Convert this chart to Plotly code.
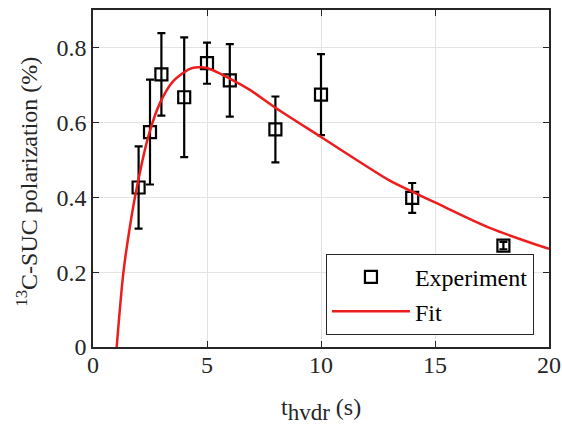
import plotly.graph_objects as go

# Experimental data
exp_t = [2, 2.5, 3, 4, 5, 6, 8, 10, 14, 18]
exp_pol = [0.426, 0.574, 0.728, 0.667, 0.758, 0.712, 0.581, 0.674, 0.398, 0.271]
exp_err = [0.11, 0.14, 0.11, 0.16, 0.055, 0.097, 0.088, 0.108, 0.04, 0.01]

# Fit curve
fit_t = [1.04, 1.33, 1.62, 1.92, 2.43, 2.94, 3.52, 4.25, 4.6, 5.0, 6.0, 6.9, 7.9,
         10.0, 13.0, 14.0, 15.0, 17.4, 20.0]
fit_pol = [0.0, 0.197, 0.322, 0.425, 0.563, 0.652, 0.710, 0.743, 0.747, 0.745, 0.717,
           0.686, 0.643, 0.561, 0.445, 0.415, 0.386, 0.318, 0.262]

x_ticks = [0, 5, 10, 15, 20]
y_ticks = [0, 0.2, 0.4, 0.6, 0.8]
y_tick_labels = ["0", "0.2", "0.4", "0.6", "0.8"]

FONT = "Liberation Serif"
AX = "#262626"
FS = 24

fig = go.Figure()
fig.add_trace(go.Scatter(
    x=exp_t, y=exp_pol, mode="markers", name="Experiment",
    marker=dict(symbol="square-open", size=12, color="black", line=dict(width=2.2)),
    error_y=dict(type="data", array=exp_err, visible=True, color="black",
                 thickness=2.2, width=4),
))
fig.add_trace(go.Scatter(
    x=fit_t, y=fit_pol, mode="lines", name="Fit",
    line=dict(color="#ee1d1d", width=2.5, shape="spline", smoothing=0.8),
))

axis_common = dict(
    showline=True, linecolor=AX, linewidth=1.5, mirror="ticks",
    ticks="inside", ticklen=6, tickwidth=1.2, tickcolor=AX,
    showgrid=True, gridcolor="#e3e3e3", gridwidth=1, zeroline=False,
    tickfont=dict(family=FONT, size=FS, color=AX), automargin=False,
)

fig.update_xaxes(range=[0, 20], tickvals=x_ticks, ticktext=[str(v) for v in x_ticks],
                 ticklabelstandoff=-5, **axis_common)
fig.update_yaxes(range=[0, 0.9], tickvals=y_ticks, ticktext=y_tick_labels,
                 **axis_common)

fig.add_annotation(text="t<sub><span style='font-size:23px'>hvdr</span></sub> (s)",
                   xref="paper", yref="paper",
                   x=0.5, y=-0.135, xanchor="center", yanchor="top", showarrow=False,
                   font=dict(family=FONT, size=FS, color=AX))
fig.add_annotation(text="<sup>13</sup>C-SUC polarization (%)", xref="paper", yref="paper",
                   x=-0.145, y=0.49, xanchor="center", yanchor="middle", showarrow=False,
                   textangle=-90, font=dict(family=FONT, size=FS, color=AX))

fig.update_layout(
    width=562, height=429,
    margin=dict(l=93, r=13, t=10, b=82),
    paper_bgcolor="white", plot_bgcolor="white",
    font=dict(family=FONT, size=FS, color="black"),
    legend=dict(x=0.967, y=0.036, xanchor="right", yanchor="bottom",
                bgcolor="white", bordercolor=AX, borderwidth=1,
                font=dict(family=FONT, size=FS, color="black"),
                itemwidth=78, tracegroupgap=0),
    showlegend=True,
)

fig.write_html("out.html",
               config={"displayModeBar": False},
               post_script="document.body.style.margin='0px';"
                           "document.body.style.overflow='hidden';")
